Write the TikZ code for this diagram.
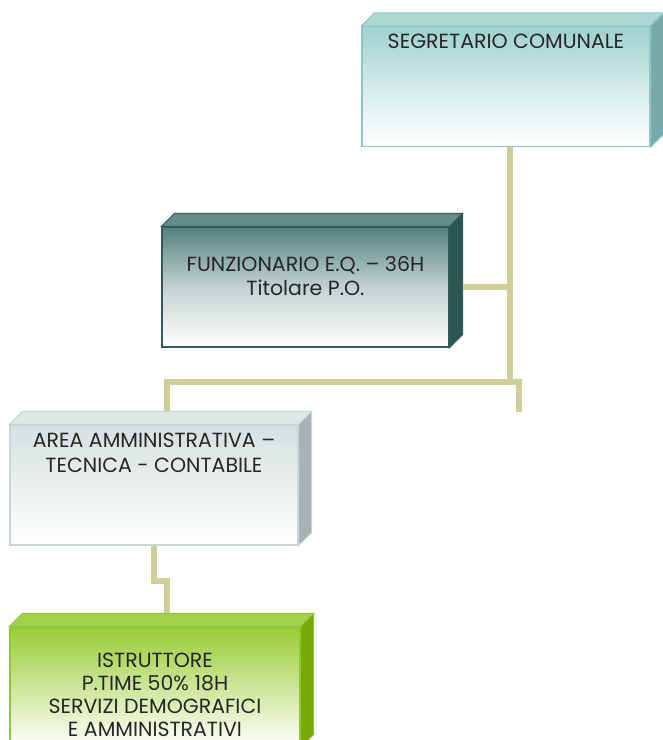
\documentclass[tikz,border=0pt]{standalone}
\usepackage{fontspec}
\setmainfont{Poppins}
\usetikzlibrary{positioning, calc}
\definecolor{linkcol}{RGB}{207,205,152}
\definecolor{segrfront}{RGB}{158,209,207}
\definecolor{segredge}{RGB}{140,199,196}
\definecolor{segrside}{RGB}{122,170,167}
\definecolor{funzfront}{RGB}{84,128,123}
\definecolor{funzedge}{RGB}{46,92,88}
\definecolor{funzside}{RGB}{43,86,83}
\definecolor{areafront}{RGB}{214,224,224}
\definecolor{areaedge}{RGB}{200,214,214}
\definecolor{areaside}{RGB}{167,179,179}
\definecolor{istrfront}{RGB}{153,204,51}
\definecolor{istredge}{RGB}{140,198,63}
\definecolor{istrside}{RGB}{122,168,0}
\tikzset{
x=1pt, y=1pt, % one unit is one pixel of the chart
face/.style={draw, line width=1.2pt, minimum width=288pt, minimum height=120pt, inner sep=0pt, bottom color=white}, % front of every box
caption/.style={align=center, inner sep=0pt, text=black!85, font=\fontsize{20.5}{24}\selectfont}, % box texts
link/.style={draw=linkcol, line width=6pt}, % connectors
}
% top and right faces of a box: node, top colour, side colour, edge colour
\newcommand{\depthfaces}[4]{%
  \filldraw[fill=#2, draw=#4, line width=1pt] (#1.north west) -- ++(13,13) -- ($(#1.north east)+(13,13)$) -- (#1.north east) -- cycle;
  \filldraw[fill=#3, draw=#4, line width=1pt] (#1.north east) -- ++(13,13) -- ($(#1.south east)+(13,13)$) -- (#1.south east) -- cycle;
}
\begin{document}
\begin{tikzpicture}
    \clip (0,0) rectangle (663,-740);
    \fill[white] (0,0) rectangle (663,-740);

    % boxes
    \node[face, draw=segredge, top color=segrfront, middle color=segrfront!45] (segr) at (506,-86.5) {};
    \node[face, draw=funzedge, top color=funzfront, middle color=funzfront!35, minimum width=287pt] (funz) at (305.5,-287) {};
    \node[face, draw=areaedge, top color=areafront] (area) at (154,-485) {};
    \node[face, draw=istredge, top color=istrfront, middle color=istrfront!50, minimum width=290pt] (istr) at (155,-687) {};
    \depthfaces{segr}{segrfront!85!white}{segrside}{segredge}
    \depthfaces{funz}{funzfront!90!white}{funzside}{funzedge}
    \depthfaces{area}{areafront!80!white}{areaside}{areaedge}
    \depthfaces{istr}{istrfront!90!white}{istrside}{istredge}

    % texts
    \node[caption, below=8pt of segr.north] (segrtext) {SEGRETARIO COMUNALE};
    \node[caption, below=30pt of funz.north] (funztext) {FUNZIONARIO E.Q. -- 36H\\Titolare P.O.};
    \node[caption, below=8pt of area.north, font=\fontsize{20.5}{25}\selectfont] (areatext) {AREA AMMINISTRATIVA --\\TECNICA - CONTABILE};
    \node[caption, below=26pt of istr.north, font=\fontsize{20.5}{23}\selectfont] (istrtext) {ISTRUTTORE\\P.TIME 50\% 18H\\SERVIZI DEMOGRAFICI\\E AMMINISTRATIVI};

    % connectors
    \coordinate (hub) at (510,-382);
    \coordinate (stub) at (519,-412);
    \draw[link] (segr.south -| hub) -- (hub);
    \draw[link] ($(funz.east)+(13,0)$) -- (funz.east -| hub);
    \draw[link] ($(area.north)+(13,13)$) |- (hub) -| (stub);
    \draw[link] (area.south) -- ++(0,-35) -| ($(istr.north)+(12,13)$);
\end{tikzpicture}
\end{document}
